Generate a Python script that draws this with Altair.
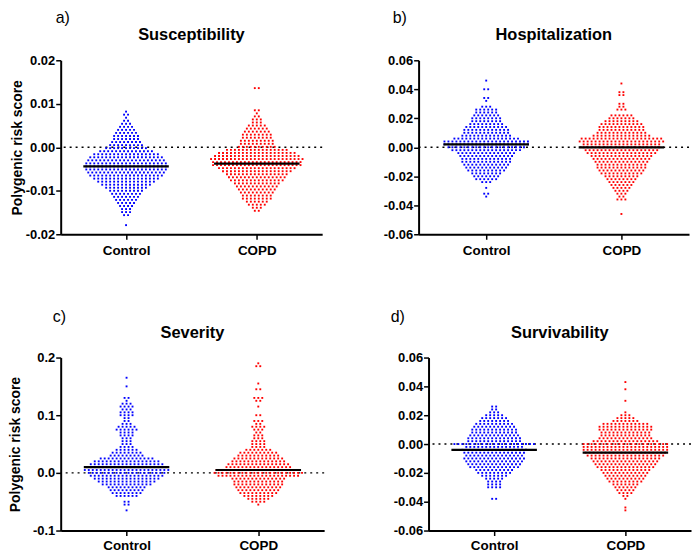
import altair as alt
import pandas as pd

FONT = "Liberation Sans"
BLUE = "#0000ff"
RED = "#ff0000"
GROUPS = ["Control", "COPD"]

# Each swarm is a list of rows: (polygenic risk score, number of points in that row)
# a) Susceptibility
A_CONTROL = [
    (0.0082, 1), (0.0075, 2), (0.0068, 1), (0.0061, 2), (0.0054, 3), (0.0047, 4),
    (0.0040, 5), (0.0033, 6), (0.0026, 7), (0.0019, 7), (0.0012, 8), (0.0005, 9),
    (-0.0002, 11), (-0.0009, 14), (-0.0016, 17), (-0.0023, 19), (-0.0030, 20),
    (-0.0037, 21), (-0.0044, 21), (-0.0051, 21), (-0.0058, 20), (-0.0065, 19),
    (-0.0072, 17), (-0.0079, 15), (-0.0086, 13), (-0.0093, 11), (-0.0100, 9),
    (-0.0107, 8), (-0.0114, 7), (-0.0121, 6), (-0.0128, 5), (-0.0135, 4),
    (-0.0142, 3), (-0.0149, 3), (-0.0156, 2), (-0.0179, 1),
]
A_COPD = [
    (0.0136, 2), (0.0085, 2), (0.0078, 1), (0.0071, 2), (0.0064, 3), (0.0057, 3),
    (0.0050, 5), (0.0043, 6), (0.0036, 7), (0.0029, 8), (0.0022, 8), (0.0015, 9),
    (0.0008, 9), (0.0001, 10), (-0.0006, 16), (-0.0013, 20), (-0.0020, 22),
    (-0.0027, 24), (-0.0034, 23), (-0.0041, 23), (-0.0048, 20), (-0.0055, 18),
    (-0.0062, 16), (-0.0069, 15), (-0.0076, 14), (-0.0083, 12), (-0.0090, 11),
    (-0.0097, 10), (-0.0104, 9), (-0.0111, 8), (-0.0118, 8), (-0.0125, 6),
    (-0.0132, 5), (-0.0139, 3), (-0.0146, 2),
]
# b) Hospitalization
B_CONTROL = [
    (0.046, 1), (0.040, 2), (0.034, 2), (0.032, 1), (0.028, 3), (0.026, 6),
    (0.024, 6), (0.022, 7), (0.020, 8), (0.018, 8), (0.016, 9), (0.014, 11),
    (0.012, 12), (0.010, 12), (0.008, 13), (0.006, 17), (0.004, 22), (0.002, 22),
    (0.000, 20), (-0.002, 18), (-0.004, 15), (-0.006, 14), (-0.008, 13),
    (-0.010, 13), (-0.012, 12), (-0.014, 11), (-0.016, 10), (-0.018, 8),
    (-0.020, 7), (-0.022, 6), (-0.024, 3), (-0.028, 1), (-0.032, 2), (-0.034, 1),
]
B_COPD = [
    (0.044, 1), (0.038, 2), (0.036, 2), (0.030, 2), (0.028, 2), (0.026, 3),
    (0.022, 6), (0.020, 7), (0.018, 9), (0.016, 11), (0.014, 12), (0.012, 12),
    (0.010, 13), (0.008, 15), (0.006, 21), (0.004, 22), (0.002, 20), (0.000, 20),
    (-0.002, 19), (-0.004, 18), (-0.006, 16), (-0.008, 15), (-0.010, 14),
    (-0.012, 13), (-0.014, 13), (-0.016, 12), (-0.018, 11), (-0.020, 9),
    (-0.022, 8), (-0.024, 7), (-0.026, 6), (-0.028, 5), (-0.030, 4),
    (-0.032, 3), (-0.034, 2), (-0.036, 3), (-0.046, 1),
]
# c) Severity
C_CONTROL = [
    (0.165, 1), (0.150, 1), (0.130, 2), (0.125, 1), (0.120, 3), (0.115, 4),
    (0.110, 3), (0.105, 4), (0.100, 4), (0.095, 2), (0.090, 2), (0.085, 3),
    (0.080, 5), (0.075, 6), (0.070, 4), (0.065, 4), (0.060, 3), (0.055, 3),
    (0.050, 3), (0.045, 4), (0.040, 6), (0.035, 8), (0.030, 9), (0.025, 14),
    (0.020, 17), (0.015, 19), (0.010, 21), (0.005, 22), (0.000, 20),
    (-0.005, 19), (-0.010, 17), (-0.015, 15), (-0.020, 13), (-0.025, 10),
    (-0.030, 9), (-0.035, 8), (-0.040, 6), (-0.050, 2), (-0.055, 2), (-0.065, 1),
]
C_COPD = [
    (0.190, 1), (0.185, 2), (0.155, 1), (0.145, 2), (0.130, 3), (0.125, 2),
    (0.115, 1), (0.100, 2), (0.090, 3), (0.085, 2), (0.080, 4), (0.075, 3),
    (0.070, 2), (0.065, 3), (0.060, 3), (0.055, 4), (0.050, 4), (0.045, 4),
    (0.040, 7), (0.035, 10), (0.030, 11), (0.025, 13), (0.020, 14), (0.015, 16),
    (0.010, 17), (0.005, 22), (0.000, 23), (-0.005, 21), (-0.010, 14),
    (-0.015, 13), (-0.020, 13), (-0.025, 12), (-0.030, 11), (-0.035, 10),
    (-0.040, 8), (-0.045, 6), (-0.050, 4), (-0.055, 1),
]
# d) Survivability
D_CONTROL = [
    (0.026, 2), (0.024, 2), (0.022, 3), (0.020, 5), (0.018, 7), (0.016, 8),
    (0.014, 10), (0.012, 11), (0.010, 12), (0.008, 12), (0.006, 13), (0.004, 14),
    (0.002, 14), (0.000, 21), (-0.002, 15), (-0.004, 17), (-0.006, 16),
    (-0.008, 15), (-0.010, 16), (-0.012, 15), (-0.014, 14), (-0.016, 13),
    (-0.018, 10), (-0.020, 9), (-0.022, 7), (-0.024, 5), (-0.026, 4),
    (-0.028, 4), (-0.030, 4), (-0.038, 2),
]
D_COPD = [
    (0.043, 1), (0.038, 1), (0.030, 1), (0.022, 1), (0.020, 3), (0.018, 5),
    (0.016, 7), (0.014, 12), (0.012, 14), (0.010, 14), (0.008, 13), (0.006, 13),
    (0.004, 14), (0.002, 17), (0.000, 22), (-0.002, 22), (-0.004, 22),
    (-0.006, 21), (-0.008, 20), (-0.010, 18), (-0.012, 17), (-0.014, 16),
    (-0.016, 15), (-0.018, 13), (-0.020, 12), (-0.022, 11), (-0.024, 10),
    (-0.026, 9), (-0.028, 7), (-0.030, 6), (-0.032, 5), (-0.034, 4),
    (-0.036, 2), (-0.038, 1), (-0.044, 1), (-0.046, 1),
]

A_TICKS = [-0.02, -0.01, 0.0, 0.01, 0.02]
B_TICKS = [-0.06, -0.04, -0.02, 0.0, 0.02, 0.04, 0.06]
C_TICKS = [-0.1, 0.0, 0.1, 0.2]
D_TICKS = [-0.06, -0.04, -0.02, 0.0, 0.02, 0.04, 0.06]

SPACING_PX = 4.0       # horizontal distance between neighbouring dots in a row
HALF_MEDIAN_PX = 43.0  # half length of the median bar


def swarm(rows, center, px_per_unit, group):
    recs = []
    for val, n in rows:
        for i in range(n):
            recs.append({
                "x": center + (i - (n - 1) / 2.0) * SPACING_PX / px_per_unit,
                "y": val,
                "group": group,
            })
    return recs


def panel(ctrl, copd, title, letter, letter_x, letter_y, ydom, yvals, yfmt,
          width, height, ytitle, ytitle_pad, xlabel_pad):
    ppu = width / 4.0
    pts = pd.DataFrame(swarm(ctrl, 1, ppu, "Control") + swarm(copd, 3, ppu, "COPD"))
    med = pts.groupby("group", sort=False)["y"].median().reset_index()
    med["c"] = med["group"].map({"Control": 1, "COPD": 3})
    med["x1"] = med["c"] - HALF_MEDIAN_PX / ppu
    med["x2"] = med["c"] + HALF_MEDIAN_PX / ppu

    xscale = alt.Scale(domain=[0, 4], nice=False, zero=False)
    yscale = alt.Scale(domain=ydom, nice=False, zero=False)
    xaxis = alt.Axis(values=[1, 3],
                     labelExpr="datum.value == 1 ? 'Control' : 'COPD'",
                     labelPadding=xlabel_pad, tickSize=5, grid=False, labelFontSize=13.5)
    ylab = "(datum.value < 0 ? '-' : '') + format(abs(datum.value), '%s')" % yfmt
    yaxis = alt.Axis(values=yvals, labelExpr=ylab, labelPadding=1, tickSize=5,
                     grid=False, titlePadding=ytitle_pad)
    ytitle_val = ytitle if ytitle else None

    def Y(field):
        return alt.Y(field, scale=yscale, axis=yaxis, title=ytitle_val)

    def X(field):
        return alt.X(field, scale=xscale, axis=xaxis, title=None)

    zero = alt.Chart(pd.DataFrame({"y": [0.0]})).mark_rule(
        color="black", strokeWidth=1.5, strokeDash=[2, 4]
    ).encode(y=Y("y:Q"))

    dots = alt.Chart(pts).mark_square(size=3.6, opacity=1).encode(
        x=X("x:Q"),
        y=Y("y:Q"),
        color=alt.Color("group:N", scale=alt.Scale(domain=GROUPS, range=[BLUE, RED]),
                        legend=None),
    )

    medl = alt.Chart(med).mark_rule(color="black", strokeWidth=2.2).encode(
        x=X("x1:Q"), x2="x2:Q", y=Y("y:Q")
    )

    let = alt.Chart(pd.DataFrame({"t": [letter]})).mark_text(
        align="left", baseline="alphabetic", fontSize=16, font=FONT, color="black"
    ).encode(x=alt.value(letter_x), y=alt.value(letter_y), text="t:N")

    tit = alt.Chart(pd.DataFrame({"t": [title]})).mark_text(
        align="center", baseline="alphabetic", fontSize=16.5, font=FONT,
        fontWeight="bold", color="black"
    ).encode(x=alt.value(width / 2.0), y=alt.value(-20), text="t:N")

    return alt.layer(zero, dots, medl, let, tit).properties(width=width, height=height)


pa = panel(A_CONTROL, A_COPD, "Susceptibility", "a)", -5, -38, [-0.02, 0.02], A_TICKS,
           ".2f", 263, 175, "Polygenic risk score", 1, 4)
pb = panel(B_CONTROL, B_COPD, "Hospitalization", "b)", -26, -38, [-0.06, 0.06], B_TICKS,
           ".2f", 272, 175, None, 1, 4)
pc = panel(C_CONTROL, C_COPD, "Severity", "c)", -8, -36, [-0.1, 0.2], C_TICKS,
           ".1f", 265, 174, "Polygenic risk score", 9.6, 3)
pdn = panel(D_CONTROL, D_COPD, "Survivability", "d)", -38, -36, [-0.06, 0.06], D_TICKS,
            ".2f", 264, 174, None, 1, 3)

top = alt.hconcat(pa, pb, spacing=60)
bottom = alt.hconcat(pc, pdn, spacing=66)

chart = alt.vconcat(top, bottom, spacing=52).properties(
    padding=0
).configure_view(stroke=None).configure_axis(
    domainColor="black", domainWidth=2, tickColor="black", tickWidth=1.5,
    labelFont=FONT, labelFontSize=13, labelFontWeight="bold", labelColor="black",
    titleFont=FONT, titleFontSize=14, titleFontWeight="bold", titleColor="black",
    grid=False,
)

chart.save("out.html", embed_options={"renderer": "svg", "actions": False})
